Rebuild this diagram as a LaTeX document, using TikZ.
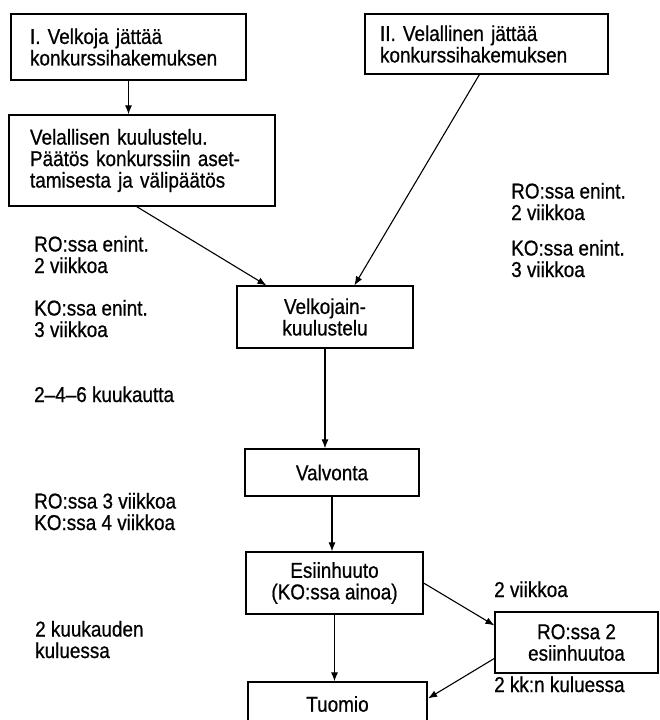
\documentclass[tikz,border=0pt]{standalone}
\usepackage{fontspec}
\setmainfont{Liberation Sans}[FakeStretch=0.88,FakeBold=0.7]
\usetikzlibrary{arrows.meta,calc}
\begin{document}
\begin{tikzpicture}[x=1pt,y=-1pt,
  txt/.style={font=\fontsize{21.5}{21.5}\selectfont},
  box/.style={draw, line width=1.2pt, inner sep=0pt, txt},
  lbox/.style={box, align=left},
  cbox/.style={box, align=center},
  lab/.style={txt, inner sep=0pt, anchor=base west, align=left},
  arr/.style={line width=1.1pt, -{Latex[length=9pt,width=7pt]}}]
\useasboundingbox (0,0) rectangle (659,720);
% boxes
\node[lbox, inner xsep=19pt, text width=197pt, minimum height=66pt] (b1) at (128.5,47) {I. Velkoja jättää\\konkurssihakemuksen};
\node[lbox, inner xsep=21pt, text width=224pt, minimum height=91pt] (b2) at (142,160.5) {Velallisen kuulustelu.\\Päätös konkurssiin aset-\\tamisesta ja välipäätös};
\node[lbox, inner xsep=15pt, text width=213pt, minimum height=60pt] (b3) at (486.5,44) {II. Velallinen jättää\\konkurssihakemuksen};
\node[cbox, minimum width=176pt, minimum height=62pt] (b4) at (325,317) {Velkojain-\\kuulustelu};
\node[cbox, minimum width=174pt, minimum height=47pt] (val) at (332,472.5) {Valvonta};
\node[cbox, minimum width=177pt, minimum height=62pt] (esi) at (334.5,583) {Esiinhuuto\\(KO:ssa ainoa)};
\node[cbox, minimum width=163pt, minimum height=61pt] (ro) at (576.5,642.5) {RO:ssa 2\\esiinhuutoa};
\node[cbox, minimum width=179pt, minimum height=44pt] (tuo) at (337.5,704) {Tuomio};
% labels (anchor = baseline of the last line)
\node[lab] (l1) at (34,273) {RO:ssa enint.\\2 viikkoa};
\node[lab] (l2) at (34,337) {KO:ssa enint.\\3 viikkoa};
\node[lab] (l3) at (34,402) {2–4–6 kuukautta};
\node[lab] (l4) at (34,530) {RO:ssa 3 viikkoa\\KO:ssa 4 viikkoa};
\node[lab] (l5) at (35,658) {2 kuukauden\\kuluessa};
\node[lab] (r1) at (511,220) {RO:ssa enint.\\2 viikkoa};
\node[lab] (r2) at (511,277) {KO:ssa enint.\\3 viikkoa};
\node[lab] (r3) at (494,597) {2 viikkoa};
\node[lab] (r4) at (494,692) {2 kk:n kuluessa};
% connectors
\draw[arr] (b1.south) -- (b1.south |- b2.north);
\draw[arr] ($(b2.south west)!0.48!(b2.south east)$) -- ($(b4.north west)+(30,0)$);
\draw[arr] ($(b3.south west)+(115,0)$) -- ($(b4.north west)+(118,0)$);
\draw[arr] (b4.south) -- (b4.south |- val.north);
\draw[arr] (val.south) -- (val.south |- esi.north);
\draw[arr] (esi.south) -- (esi.south |- tuo.north);
\draw[arr] (esi.east) -- ($(ro.north west)+(0,14)$);
\draw[arr] ($(ro.north west)+(0,47)$) -- ($(tuo.north east)+(0.5,17)$);
\end{tikzpicture}
\end{document}
